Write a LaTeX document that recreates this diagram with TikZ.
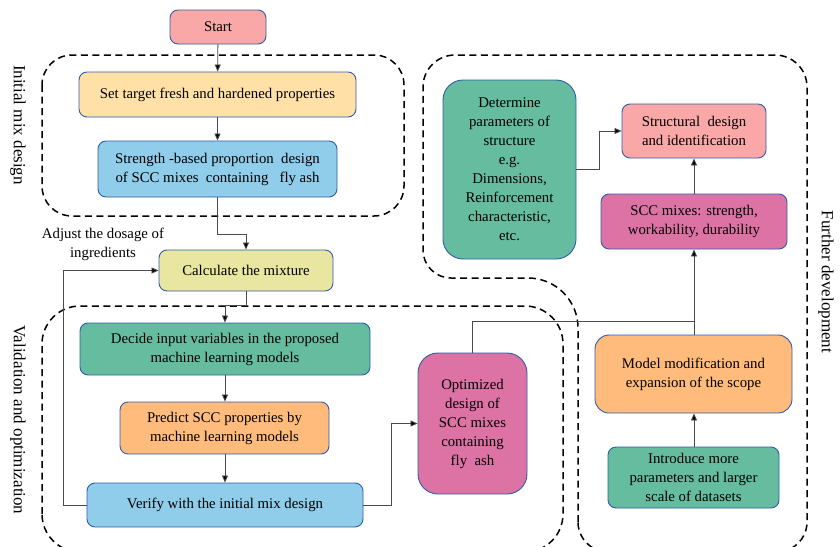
\documentclass[tikz,border=0pt]{standalone}
\usepackage{fontspec}
\setmainfont{Liberation Serif}
\usetikzlibrary{arrows.meta}
\definecolor{edgeblue}{HTML}{2F5CA8}
\definecolor{cstart}{HTML}{F9A8A7}
\definecolor{cpeach}{HTML}{FFE0A6}
\definecolor{cblue}{HTML}{8FCDEA}
\definecolor{cyellow}{HTML}{E8E6A0}
\definecolor{cteal}{HTML}{66BC9F}
\definecolor{corange}{HTML}{FEBB7C}
\definecolor{cmagenta}{HTML}{DD72A5}
\definecolor{wire}{HTML}{4A4A4A}
\begin{document}
\begin{tikzpicture}[x=1pt,y=-1pt,
  box/.style={draw=edgeblue, line width=0.9pt, rounded corners=8pt, align=center,
    inner sep=2pt, font=\fontsize{14.8}{19}\selectfont},
  tallbox/.style={box, rounded corners=20pt},
  wirearr/.style={draw=wire, line width=0.8pt, -{Triangle[length=7pt,width=6pt,fill=black]}},
  plainwire/.style={draw=wire, line width=0.8pt},
  groupline/.style={draw=black, line width=1.5pt, dash pattern=on 7pt off 4.5pt},
  sidelabel/.style={rotate=-90, font=\fontsize{17}{20}\selectfont},
]
\useasboundingbox (0,0) rectangle (840,546);

% ---- dashed group outlines ----
\begin{scope}
\clip (0,0) rectangle (840,546);
\draw[groupline, rounded corners=30pt] (42,55) rectangle (404,216);
\draw[groupline, rounded corners=38pt] (42,552) -- (42,306) -- (563,306) -- (563,552) -- cycle;
\draw[groupline, rounded corners=30pt] (578,552) [rounded corners=50pt] -- (578,278)
  [rounded corners=28pt] -- (423,278) [rounded corners=32pt] -- (423,55) -- (807,55)
  [rounded corners=30pt] -- (807,552) -- cycle;
\end{scope}

% ---- group labels ----
\node[sidelabel] (lblinit) at (18,125) {Initial mix design};
\node[sidelabel] (lblvalid) at (18,420) {Validation and optimization};
\node[sidelabel] (lblfurther) at (826,282) {Further development};

% ---- process steps ----
\node[box, fill=cstart, minimum width=96pt, minimum height=34pt] (start) at (218,27) {Start};
\node[box, fill=cpeach, minimum width=277pt, minimum height=45pt] (target) at (217.5,94.5)
  {Set target fresh and hardened properties};
\node[box, fill=cblue, minimum width=239pt, minimum height=56pt] (strength) at (217.5,169)
  {Strength -based proportion\ \ design\\of SCC mixes\ \ containing\ \ \ fly ash};
\node[box, fill=cyellow, minimum width=174pt, minimum height=41pt] (calc) at (246,270.5)
  {Calculate the mixture};
\node[align=center, font=\fontsize{14.8}{19}\selectfont] (adjust) at (103,244)
  {Adjust the dosage of\\ingredients};
\node[box, fill=cteal, minimum width=290pt, minimum height=52pt] (decide) at (225,349)
  {Decide input variables in the proposed\\machine learning models};
\node[box, fill=corange, minimum width=209pt, minimum height=52pt] (predict) at (224.5,428)
  {Predict SCC properties by\\machine learning models};
\node[box, fill=cblue, minimum width=276pt, minimum height=44pt] (verify) at (225,505)
  {Verify with the initial mix design};
\node[tallbox, fill=cmagenta, minimum width=109pt, minimum height=141pt] (optim) at (472.5,423.5)
  {Optimized\\design of\\SCC mixes\\containing\\fly\ \ ash};

\node[tallbox, fill=cteal, minimum width=133pt, minimum height=179pt] (determine) at (509.5,169.5)
  {Determine\\parameters of\\structure\\e.g.\\Dimensions,\\Reinforcement\\characteristic,\\etc.};
\node[box, fill=cstart, minimum width=144pt, minimum height=54pt] (struct) at (694,131)
  {Structural\ \ design\\and identification};
\node[box, fill=cmagenta, minimum width=186pt, minimum height=55pt] (sccmix) at (694,221.5)
  {SCC mixes: strength,\\workability, durability};
\node[box, fill=corange, minimum width=197pt, minimum height=78pt, rounded corners=14pt] (model) at (693.5,374)
  {Model modification and\\expansion of the scope};
\node[box, fill=cteal, minimum width=171pt, minimum height=61pt] (introduce) at (693.5,477.5)
  {Introduce more\\parameters and larger\\scale of datasets};

% ---- junction points ----
\coordinate (jstr) at (217.5,234);
\coordinate (jcalc) at (246,305);
\coordinate (jloop) at (63,505);
\coordinate (jver) at (391,505);
\coordinate (jopt) at (694,321);
\coordinate (jdet) at (599,169.5);

% ---- connectors ----
\draw[wirearr] (start) -- (target);
\draw[wirearr] (target) -- (strength);
\draw[wirearr] (strength.south) -- (jstr) -| (calc.north);
\draw[wirearr] (calc.south) -- (jcalc) -| (decide.north);
\draw[wirearr] (decide.south) -- (decide.south |- predict.north);
\draw[wirearr] (predict.south -| decide.south) -- (verify.north -| decide.south);
\draw[wirearr] (verify.west) -- (jloop) |- (calc.west);
\draw[wirearr] (verify.east) -- (jver) |- (optim.west);
\draw[plainwire] (optim.north) |- (jopt);
\draw[wirearr] (model.north -| sccmix.south) -- (sccmix.south);
\draw[wirearr] (sccmix.north) -- (struct.south);
\draw[wirearr] (introduce.north -| sccmix.south) -- (model.south -| sccmix.south);
\draw[wirearr] (determine.east) -- (jdet) |- (struct.west);
\end{tikzpicture}
\end{document}
